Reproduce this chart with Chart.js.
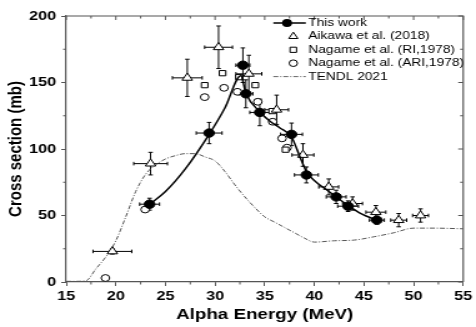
<!DOCTYPE html>
<html><head><meta charset="utf-8">
<script src="https://cdn.jsdelivr.net/npm/chart.js@4.4.0/dist/chart.umd.min.js"></script>
<style>
html,body{margin:0;padding:0;background:#fff;overflow:hidden;}
#wrap{width:381px;height:327px;transform:scaleX(1.2493);transform-origin:0 0;}
canvas{display:block;}
</style></head><body>
<div id="wrap"><canvas id="c" width="381" height="327"></canvas></div>
<script>
// ---- Data (Alpha energy in MeV, cross section in mb) ----
const seriesNames = ["This work", "Aikawa et al. (2018)", "Nagame et al. (RI,1978)", "Nagame et al. (ARI,1978)", "TENDL 2021"];

const thisWorkE    = [23.4, 29.4, 32.8, 33.1, 34.5, 37.7, 39.2, 42.2, 43.4, 46.3];
const thisWorkXS   = [58.5, 112, 163, 141.5, 127.5, 111, 80.5, 64, 57, 46.5];
const thisWorkEErr = [1.0, 1.3, 0.7, 0.7, 1.0, 1.1, 1.2, 1.0, 1.05, 0.75];
const thisWorkXSErr= [4.5, 8, 13, 10.5, 10, 8.5, 6, 5, 4, 3];

const fitE  = [23.4, 25, 27, 29.4, 31, 32.6, 33.1, 34.5, 35.5, 36.5, 37.7, 38.5, 39.2, 40.2, 41.2, 42.2, 43.4, 44.8, 46.3];
const fitXS = [58.5, 68, 85, 111, 131, 155, 142, 128, 121, 116, 109, 95, 83, 75, 69.5, 64, 57.5, 51, 46.5];

const aikawaE    = [19.65, 23.5, 27.2, 30.35, 33.4, 36.2, 38.85, 41.45, 43.85, 46.2, 48.5, 50.7];
const aikawaXS   = [23, 89, 153.5, 176.5, 156.5, 129.5, 95.5, 71.5, 59, 52.5, 46.5, 50];
const aikawaEErr = [1.95, 1.7, 1.5, 1.4, 1.3, 1.2, 1.1, 1.0, 1.0, 1.0, 0.8, 0.8];
const aikawaXSErr= [2, 8.5, 14, 16, 14, 11, 8.5, 6, 5, 5, 5, 5];

const nagameRIE  = [28.95, 30.75, 32.4, 34.05, 35.75, 37.1];
const nagameRIXS = [148, 157, 154, 148, 128.5, 99.5];

const nagameARIE  = [18.95, 22.95, 28.95, 30.9, 32.25, 34.3, 35.8, 36.75, 37.25];
const nagameARIXS = [3, 54.5, 139, 146, 143, 135.5, 120.5, 108, 101];

const tendlE  = [15, 16, 17, 18, 19, 20, 21, 22, 23, 24, 25, 26, 27, 28, 29, 30, 31, 32, 33, 34, 35, 36, 37, 38, 39, 40, 42, 44, 46, 48, 50, 52, 55];
const tendlXS = [0.5, 0.5, 1, 10, 19, 31, 49, 68, 81, 88, 92.5, 95, 96.5, 96.5, 94, 91, 83, 73, 64, 56, 49, 45, 41, 37, 33, 30, 31, 31.5, 34, 37, 40.5, 40.5, 40];

const xTicks = [15, 20, 25, 30, 35, 40, 45, 50, 55];
const yTicks = [0, 50, 100, 150, 200];

const pts = (xs, ys) => xs.map((x, i) => ({x: x, y: ys[i]}));

const FONT = "'Liberation Sans', Arial, sans-serif";
const AXIS_COLOR = '#555';

// error bars drawn through the scales
const errorBarPlugin = {
  id: 'errorBars',
  beforeDatasetsDraw(chart) {
    const ctx = chart.ctx, xs = chart.scales.x, ys = chart.scales.y;
    const sets = [[thisWorkE, thisWorkXS, thisWorkEErr, thisWorkXSErr], [aikawaE, aikawaXS, aikawaEErr, aikawaXSErr]];
    ctx.save();
    ctx.strokeStyle = '#000';
    ctx.lineWidth = 1;
    const cap = 1.8;
    sets.forEach(([E, S, dE, dS]) => {
      E.forEach((e, i) => {
        const px = xs.getPixelForValue(e), py = ys.getPixelForValue(S[i]);
        const x1 = xs.getPixelForValue(e - dE[i]), x2 = xs.getPixelForValue(e + dE[i]);
        const y1 = ys.getPixelForValue(S[i] - dS[i]), y2 = ys.getPixelForValue(S[i] + dS[i]);
        ctx.beginPath();
        ctx.moveTo(x1, py); ctx.lineTo(x2, py);
        ctx.moveTo(x1, py - cap); ctx.lineTo(x1, py + cap);
        ctx.moveTo(x2, py - cap); ctx.lineTo(x2, py + cap);
        ctx.moveTo(px, y1); ctx.lineTo(px, y2);
        ctx.moveTo(px - cap, y1); ctx.lineTo(px + cap, y1);
        ctx.moveTo(px - cap, y2); ctx.lineTo(px + cap, y2);
        ctx.stroke();
      });
    });
    ctx.restore();
  }
};

// frame (top/right), minor ticks and mirrored ticks
const framePlugin = {
  id: 'frame',
  afterDraw(chart) {
    const ctx = chart.ctx, a = chart.chartArea, xs = chart.scales.x, ys = chart.scales.y;
    ctx.save();
    ctx.strokeStyle = AXIS_COLOR;
    ctx.lineWidth = 1.2;
    ctx.beginPath();
    ctx.moveTo(a.left, a.top); ctx.lineTo(a.right, a.top); ctx.lineTo(a.right, a.bottom);
    ctx.stroke();
    ctx.lineWidth = 1;
    ctx.beginPath();
    for (let v = 15; v <= 55.001; v += 2.5) {
      const p = xs.getPixelForValue(v);
      const major = Math.abs(v / 5 - Math.round(v / 5)) < 1e-6;
      if (!major) { ctx.moveTo(p, a.bottom); ctx.lineTo(p, a.bottom + 2.5); }
      ctx.moveTo(p, a.top); ctx.lineTo(p, a.top + (major ? 4 : 2.5));
    }
    for (let v = 0; v <= 200.001; v += 25) {
      const p = ys.getPixelForValue(v);
      const major = v % 50 === 0;
      if (!major) { ctx.moveTo(a.left, p); ctx.lineTo(a.left - 2.5, p); }
      ctx.moveTo(a.right, p); ctx.lineTo(a.right - (major ? 4 : 2.5), p);
    }
    ctx.stroke();
    ctx.restore();
  }
};

// legend inside plot, top right
const legendPlugin = {
  id: 'insideLegend',
  afterDraw(chart) {
    const ctx = chart.ctx, a = chart.chartArea;
    const textX = a.right - 124, symX = textX - 12, lineX1 = textX - 28, lineX2 = textX - 2;
    const y0 = a.top + 7, dy = 13.4;
    ctx.save();
    ctx.font = "11px " + FONT;
    ctx.fillStyle = '#000';
    ctx.textBaseline = 'middle';
    ctx.textAlign = 'left';
    seriesNames.forEach((n, i) => ctx.fillText(n, textX, y0 + i * dy));
    // row 0: line + filled circle
    ctx.strokeStyle = '#000'; ctx.lineWidth = 1.5;
    ctx.beginPath(); ctx.moveTo(lineX1, y0); ctx.lineTo(lineX2, y0); ctx.stroke();
    ctx.beginPath(); ctx.arc(textX - 17, y0, 4, 0, Math.PI * 2); ctx.fillStyle = '#000'; ctx.fill();
    ctx.lineWidth = 1; ctx.fillStyle = '#fff';
    // row 1: triangle
    const ty = y0 + dy, r = 4.2;
    ctx.beginPath();
    ctx.moveTo(symX, ty - r); ctx.lineTo(symX + r * 0.866, ty + r * 0.5); ctx.lineTo(symX - r * 0.866, ty + r * 0.5); ctx.closePath();
    ctx.fill(); ctx.stroke();
    // row 2: square
    const sy = y0 + 2 * dy;
    ctx.beginPath(); ctx.rect(symX - 2.6, sy - 2.6, 5.2, 5.2); ctx.fill(); ctx.stroke();
    // row 3: circle
    const cy = y0 + 3 * dy;
    ctx.beginPath(); ctx.arc(symX, cy, 3.3, 0, Math.PI * 2); ctx.fill(); ctx.stroke();
    // row 4: dash-dot line
    const ly = y0 + 4 * dy;
    ctx.strokeStyle = '#666'; ctx.setLineDash([4, 1.5, 1, 1.5]);
    ctx.beginPath(); ctx.moveTo(lineX1, ly); ctx.lineTo(lineX2, ly); ctx.stroke();
    ctx.restore();
  }
};

new Chart(document.getElementById('c'), {
  type: 'scatter',
  data: {
    datasets: [
      { label: seriesNames[0], data: pts(thisWorkE, thisWorkXS), showLine: false,
        pointStyle: 'circle', pointRadius: 4.2, pointBackgroundColor: '#000', pointBorderColor: '#000', pointBorderWidth: 1 },
      { label: 'fit', data: pts(fitE, fitXS), showLine: true, pointRadius: 0,
        borderColor: '#000', borderWidth: 1.5, cubicInterpolationMode: 'monotone', fill: false },
      { label: seriesNames[1], data: pts(aikawaE, aikawaXS), showLine: false,
        pointStyle: 'triangle', pointRadius: 4.8, pointBackgroundColor: '#fff', pointBorderColor: '#000', pointBorderWidth: 1 },
      { label: seriesNames[2], data: pts(nagameRIE, nagameRIXS), showLine: false,
        pointStyle: 'rect', pointRadius: 3.7, pointBackgroundColor: '#fff', pointBorderColor: '#000', pointBorderWidth: 1 },
      { label: seriesNames[3], data: pts(nagameARIE, nagameARIXS), showLine: false,
        pointStyle: 'circle', pointRadius: 3.4, pointBackgroundColor: '#fff', pointBorderColor: '#000', pointBorderWidth: 1 },
      { label: seriesNames[4], data: pts(tendlE, tendlXS), showLine: true, pointRadius: 0, clip: 4,
        borderColor: '#555', borderWidth: 1, borderDash: [4, 1.5, 1, 1.5], cubicInterpolationMode: 'monotone', fill: false }
    ]
  },
  options: {
    responsive: false,
    devicePixelRatio: 1,
    animation: false,
    layout: { padding: { top: 16, right: 8, left: 0, bottom: 0 } },
    plugins: { legend: { display: false }, tooltip: { enabled: false } },
    scales: {
      x: {
        type: 'linear', min: 15, max: 55,
        afterFit(s) { s.height = 45; },
        afterBuildTicks(s) { s.ticks = xTicks.map(v => ({value: v})); },
        ticks: { color: '#000', font: { family: FONT, size: 13, weight: 'bold' }, padding: 3, maxRotation: 0 },
        grid: { drawOnChartArea: false, drawTicks: true, tickLength: 4, color: AXIS_COLOR, lineWidth: 1 },
        border: { display: true, color: AXIS_COLOR, width: 1.2 },
        title: { display: true, text: 'Alpha Energy (MeV)', color: '#000',
                 font: { family: FONT, size: 15, weight: 'bold' }, padding: { top: 0, bottom: 3 } }
      },
      y: {
        type: 'linear', min: 0, max: 200,
        afterFit(s) { s.width = 53; },
        afterBuildTicks(s) { s.ticks = yTicks.map(v => ({value: v})); },
        ticks: { color: '#000', font: { family: FONT, size: 13, weight: 'bold' }, padding: 4 },
        grid: { drawOnChartArea: false, drawTicks: true, tickLength: 4, color: AXIS_COLOR, lineWidth: 1 },
        border: { display: true, color: AXIS_COLOR, width: 1.2 },
        title: { display: true, text: 'Cross section (mb)', color: '#000',
                 font: { family: FONT, size: 15, weight: 'bold' }, padding: { top: 4, bottom: 0 } }
      }
    }
  },
  plugins: [errorBarPlugin, framePlugin, legendPlugin]
});
</script>
</body></html>
